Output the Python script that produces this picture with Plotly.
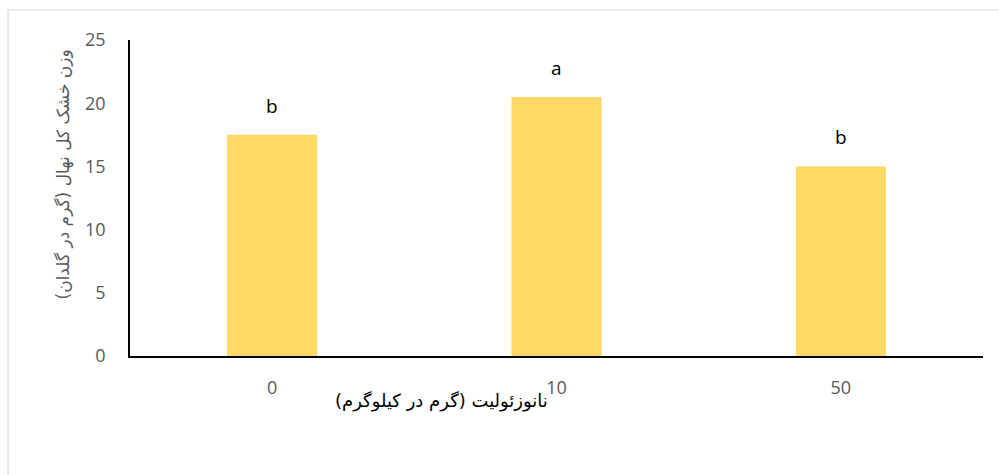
import plotly.graph_objects as go

categories = ["0", "10", "50"]
values = [17.5, 20.5, 15.0]
letters = ["b", "a", "b"]
y_ticks = [0, 5, 10, 15, 20, 25]
x_title = "نانوزئولیت (گرم در کیلوگرم)"
y_title = "وزن خشک کل نهال (گرم در گلدان)"

fig = go.Figure()
fig.add_trace(go.Bar(
    x=categories, y=values,
    marker=dict(color="#FFD966", line=dict(width=0)),
    width=0.317,
    hoverinfo="skip",
))

for i, (v, l) in enumerate(zip(values, letters)):
    fig.add_annotation(x=i, y=v, text=l, showarrow=False, yanchor="bottom",
                       yshift=14, font=dict(size=19, color="#000000",
                                            family="Open Sans, DejaVu Sans"))

fig.add_annotation(xref="paper", yref="paper", x=0.365, y=-0.185, text=x_title,
                   showarrow=False, font=dict(size=18, color="#000000",
                                              family="DejaVu Sans"))
fig.add_annotation(xref="paper", yref="paper", x=-0.093, y=0.575, text=y_title,
                   textangle=-90, showarrow=False,
                   font=dict(size=17, color="#595959", family="DejaVu Sans"))

fig.add_shape(type="rect", xref="paper", yref="paper",
              x0=-0.143, x1=1.2, y0=-0.6, y1=1.095,
              line=dict(color="#D9D9D9", width=1.2), fillcolor="rgba(0,0,0,0)",
              layer="below")

fig.update_layout(
    width=999, height=475, autosize=False,
    margin=dict(l=130, r=16, t=40, b=119),
    plot_bgcolor="white", paper_bgcolor="white",
    showlegend=False,
    font=dict(family="Open Sans, DejaVu Sans", size=18, color="#595959"),
    xaxis=dict(
        type="category", range=[-0.5, 2.5], showline=True, linecolor="#000000",
        linewidth=1.5, ticks="outside", ticklen=15, tickcolor="rgba(0,0,0,0)",
        tickfont=dict(size=18, color="#595959"), showgrid=False, zeroline=False,
    ),
    yaxis=dict(
        range=[0, 25], tickvals=y_ticks, showline=True, linecolor="#000000",
        linewidth=1.5, ticks="outside", ticklen=19, tickcolor="rgba(0,0,0,0)",
        tickfont=dict(size=18, color="#595959"), showgrid=False, zeroline=False,
    ),
)

fig.write_html("out.html", config={"displayModeBar": False, "responsive": False},
               post_script="document.body.style.margin='0';document.body.style.padding='0';")
